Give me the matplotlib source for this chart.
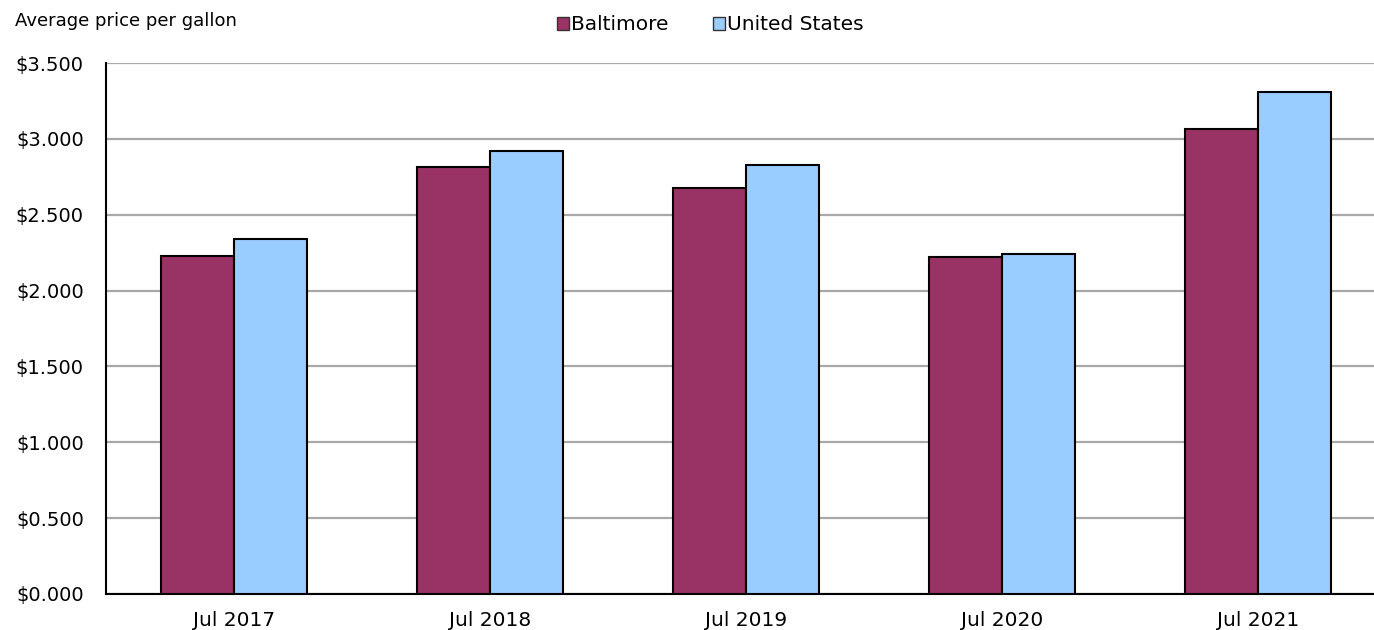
import matplotlib
matplotlib.use("Agg")
import matplotlib.pyplot as plt
import numpy as np
from matplotlib.ticker import FuncFormatter, MultipleLocator
from matplotlib.patches import Patch

categories = ["Jul 2017", "Jul 2018", "Jul 2019", "Jul 2020", "Jul 2021"]
baltimore = [2.230, 2.817, 2.678, 2.224, 3.065]
united_states = [2.338, 2.922, 2.826, 2.239, 3.311]
series_names = ["Baltimore", "United States"]
colors = ["#993366", "#99ccff"]

plt.rcParams["font.family"] = ["DejaVu Sans"]

fig = plt.figure(figsize=(13.74, 6.30), dpi=100)
ax = fig.add_axes([106 / 1374, 1 - 594 / 630, 1 - 106 / 1374, 531 / 630])

x = np.arange(len(categories))
w = 0.285
ax.bar(x - w / 2, baltimore, w, color=colors[0], edgecolor="black", linewidth=1.5, zorder=3)
ax.bar(x + w / 2, united_states, w, color=colors[1], edgecolor="black", linewidth=1.5, zorder=3)

ax.set_ylim(0, 3.5)
ax.set_xlim(-0.5, 4.453)
ax.yaxis.set_major_locator(MultipleLocator(0.5))
ax.yaxis.set_major_formatter(FuncFormatter(lambda v, p: "$" + f"{v:.3f}"))
ax.set_xticks(x)
ax.set_xticklabels(categories)
ax.tick_params(axis="both", length=0, colors="black")
ax.tick_params(axis="x", pad=12, labelsize=14.5)
ax.tick_params(axis="y", pad=16, labelsize=14)

ax.grid(axis="y", color="#a8a8a8", linewidth=1.6, zorder=0)
ax.set_axisbelow(True)
for s in ["top", "right"]:
    ax.spines[s].set_visible(False)
for s in ["left", "bottom"]:
    ax.spines[s].set_color("black")
    ax.spines[s].set_linewidth(1.5)

fig.text(15 / 1374, 1 - 21 / 630, "Average price per gallon", fontsize=13,
         ha="left", va="center")

handles = [Patch(facecolor=c, edgecolor="#333333", linewidth=1) for c in colors]
fig.legend(handles, series_names, loc="center", bbox_to_anchor=(710 / 1374, 1 - 25 / 630),
           ncol=2, frameon=False, fontsize=14.5, handlelength=0.6, handleheight=0.6,
           handletextpad=0.1, columnspacing=2.2)

fig.savefig("out.png", dpi=100)
